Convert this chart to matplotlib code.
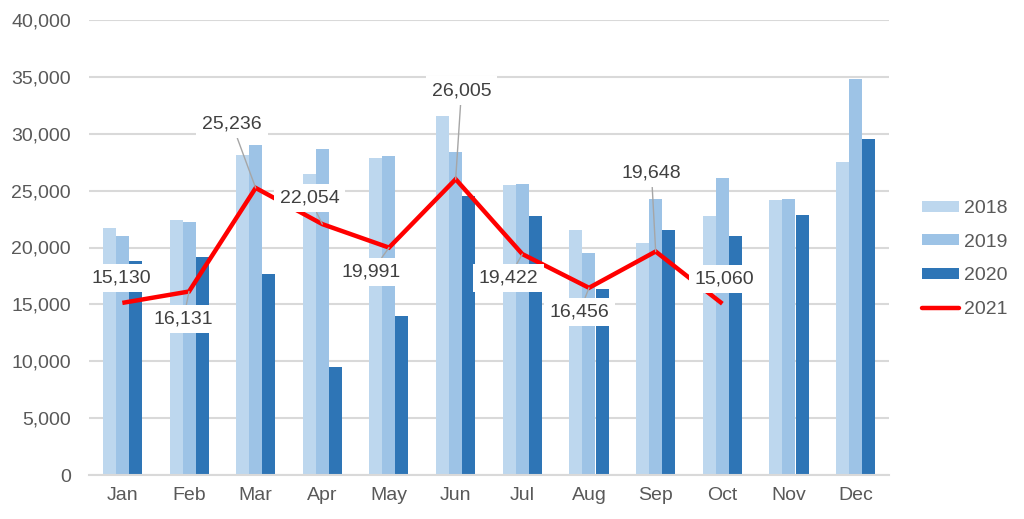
import matplotlib
matplotlib.use("Agg")
import matplotlib.pyplot as plt
from matplotlib.patches import Patch
from matplotlib.lines import Line2D
from matplotlib.ticker import FuncFormatter
import numpy as np

# ---------------- data ----------------
months = ["Jan", "Feb", "Mar", "Apr", "May", "Jun",
          "Jul", "Aug", "Sep", "Oct", "Nov", "Dec"]
s2018 = [21700, 22400, 28100, 26500, 27900, 31550,
         25500, 21550, 20400, 22800, 24150, 27550]
s2019 = [21000, 22200, 29000, 28650, 28050, 28400,
         25600, 19500, 24250, 26150, 24250, 34850]
s2020 = [18800, 19150, 17650, 9500, 14000, 24500,
         22750, 16350, 21550, 21050, 22900, 29550]
s2021 = [15130, 16131, 25236, 22054, 19991, 26005,
         19422, 16456, 19648, 15060]
series_names = ["2018", "2019", "2020", "2021"]

# ---------------- layout / style ----------------
colors = ["#BDD7EE", "#9DC3E6", "#2E75B6"]
red = "#FF0000"
text_col = "#595959"
label_col = "#404040"
grid_col = "#D9D9D9"
fs = 14
# label offsets in pixels (dx, dy) relative to point, and leader-line flag
label_offsets = [(-1, 25), (-5.5, -27.5), (-23.6, 64), (-12.8, 26), (-17.5, -24.4),
                 (5.8, 88.5), (-13.8, -24), (-9.5, -24.2), (-4.2, 78.5), (2.2, 24.7)]
leaders = [False, True, True, True, True, True, True, True, True, False]

plt.rcParams['font.family'] = ['Liberation Sans', 'DejaVu Sans']

fig = plt.figure(figsize=(10.24, 5.19), dpi=100)
ax = fig.add_axes([89 / 1024, 1 - 475 / 519, 800 / 1024, 455 / 519])

x = np.arange(len(months))
w = 0.195
for k, (vals, c) in enumerate(zip([s2018, s2019, s2020], colors)):
    ax.bar(x + (k - 1) * w, vals, width=w, color=c, edgecolor="none", zorder=2)

x21 = np.arange(len(s2021))
ax.plot(x21, s2021, color=red, lw=3.2, zorder=3, solid_capstyle="butt", solid_joinstyle="miter")

for i, v in enumerate(s2021):
    dx, dy = label_offsets[i]
    kw = {}
    if leaders[i]:
        kw["arrowprops"] = dict(arrowstyle="-", color="#A6A6A6", lw=1,
                                shrinkA=0, shrinkB=0)
    ax.annotate(f"{v:,}", xy=(i, v), xytext=(dx, dy), textcoords="offset pixels",
                ha="center", va="center", fontsize=fs, color=label_col,
                bbox=dict(boxstyle="square,pad=0.3", fc="white", ec="none"),
                zorder=5, **kw)

ax.set_xlim(-0.5, len(months) - 0.5)
ax.set_ylim(0, 40000)
ax.set_yticks(np.arange(0, 40001, 5000))
ax.yaxis.set_major_formatter(FuncFormatter(lambda v, p: f"{int(v):,}"))
ax.set_xticks(x)
ax.set_xticklabels(months)
ax.tick_params(axis="both", length=0, labelsize=fs, colors=text_col)
ax.tick_params(axis="y", pad=13)
ax.tick_params(axis="x", pad=9)
ax.grid(axis="y", color=grid_col, lw=1.5, zorder=0)
ax.set_axisbelow(True)
for s in ["top", "right", "left"]:
    ax.spines[s].set_visible(False)
ax.spines["bottom"].set_color(grid_col)
ax.spines["bottom"].set_linewidth(1.5)

handles = [Patch(facecolor=c, edgecolor="none") for c in colors]
handles.append(Line2D([0], [0], color=red, lw=3.2, solid_capstyle="round"))
fig.legend(handles, series_names, loc="center left", bbox_to_anchor=(922 / 1024, 1 - 259 / 519),
           frameon=False, fontsize=fs, handlelength=1.9, handleheight=0.5,
           handletextpad=0.25, labelspacing=0.85, borderpad=0, borderaxespad=0,
           labelcolor=text_col)

fig.savefig("out.png", dpi=100)
